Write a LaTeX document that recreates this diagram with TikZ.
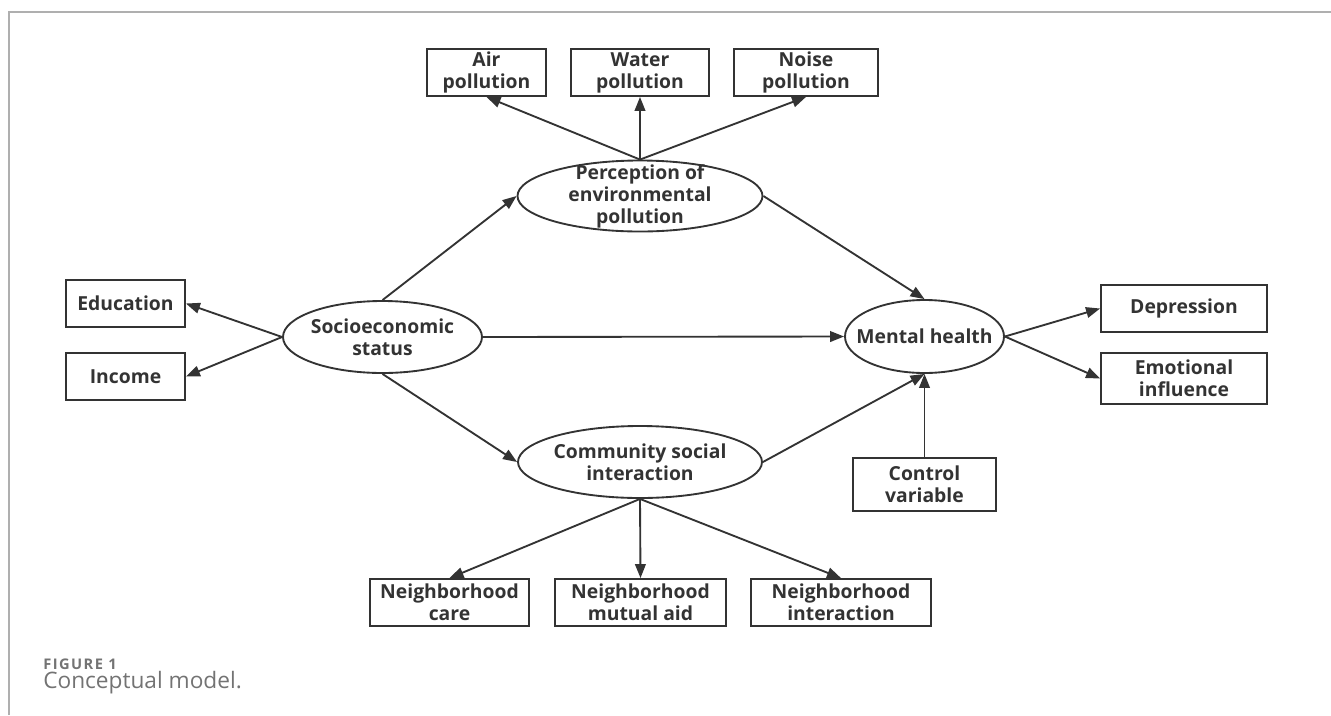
\documentclass[tikz,border=0pt]{standalone}
\usepackage{fontspec}
\setmainfont{Open Sans}
\usetikzlibrary{shapes.geometric,arrows.meta}
\definecolor{ink}{RGB}{51,51,51}
\definecolor{framegray}{RGB}{175,175,175}
\definecolor{capgray}{RGB}{115,115,115}
\def\px{0.75pt}
\begin{document}
\begin{tikzpicture}[x=0.75pt,y=-0.75pt,
		txt/.style={text=ink,align=center,font=\bfseries\fontsize{14.5}{16.5}\selectfont},
		box/.style 2 args={draw=ink,line width=1.4pt,rectangle,inner sep=0pt,txt,minimum width=#1*\px,minimum height=#2*\px},
		oval/.style 2 args={draw=ink,line width=1.4pt,ellipse,inner sep=0pt,minimum width=#1*\px,minimum height=#2*\px},
		every label/.style={txt},
		link/.style={draw=ink,line width=1.4pt,-{Triangle[length=10.5pt,width=8pt]}},
		captxt/.style={anchor=base west,inner sep=0pt,text=capgray,font=#1}]
				\useasboundingbox (0,0) rectangle (1331,715);
				% cadre de la figure
				\draw[framegray,line width=1.1pt] (9,715) -- (9,12) -- (1331,12);
				% variables latentes
				\node[oval={245}{71},label={center:Perception of\\environmental\\pollution}] (perc) at (640,196) {};
				\node[oval={199}{72},label={center:Socioeconomic\\status}] (socio) at (382.5,337) {};
				\node[oval={159}{73},label={center:Mental health}] (mental) at (924.5,336.5) {};
				\node[oval={244}{72},label={center:Community social\\interaction}] (comm) at (640,462) {};
				% indicateurs
				\node[box={119}{47}] (air) at (486.5,72.5) {Air\\pollution};
				\node[box={138}{47}] (water) at (640,72.5) {Water\\pollution};
				\node[box={144}{47}] (noise) at (806,72.5) {Noise\\pollution};
				\node[box={119}{47}] (edu) at (125.5,303.5) {Education};
				\node[box={119}{47}] (inc) at (125.5,376.5) {Income};
				\node[box={166}{47}] (dep) at (1184,308.5) {Depression};
				\node[box={166}{51}] (emo) at (1184,378.5) {Emotional\\influence};
				\node[box={143}{53}] (ctrl) at (924.5,484.5) {Control\\variable};
				\node[box={159}{47}] (care) at (449.5,602.5) {Neighborhood\\care};
				\node[box={171}{47}] (aid) at (640.5,602.5) {Neighborhood\\mutual aid};
				\node[box={180}{47}] (inter) at (841,602.5) {Neighborhood\\interaction};
				% chemins
				\draw[link] (socio.north) -- (perc.west);
				\draw[link] (socio.east) -- (mental.west);
				\draw[link] (socio.south) -- (comm.west);
				\draw[link] (perc.east) -- (mental.north);
				\draw[link] (comm.east) -- (mental.south);
				\draw[link] (ctrl.north) -- (mental.south);
				\draw[link] (socio.west) -- (edu.east);
				\draw[link] (socio.west) -- (inc.east);
				\draw[link] (mental.east) -- (dep.west);
				\draw[link] (mental.east) -- (emo.west);
				\draw[link] (perc.north) -- (air.south);
				\draw[link] (perc.north) -- (water.south);
				\draw[link] (perc.north) -- (noise.south);
				\draw[link] (comm.south) -- (care.north);
				\draw[link] (comm.south) -- (aid.north);
				\draw[link] (comm.south) -- (inter.north);
				% legende
				\node[captxt={\bfseries\fontsize{11}{13}\selectfont\addfontfeature{LetterSpace=10}}] (fig) at (43,669) {FIGURE 1};
				\node[captxt={\fontsize{17}{20}\selectfont}] (cap) at (43,688) {Conceptual model.};
\end{tikzpicture}
\end{document}
